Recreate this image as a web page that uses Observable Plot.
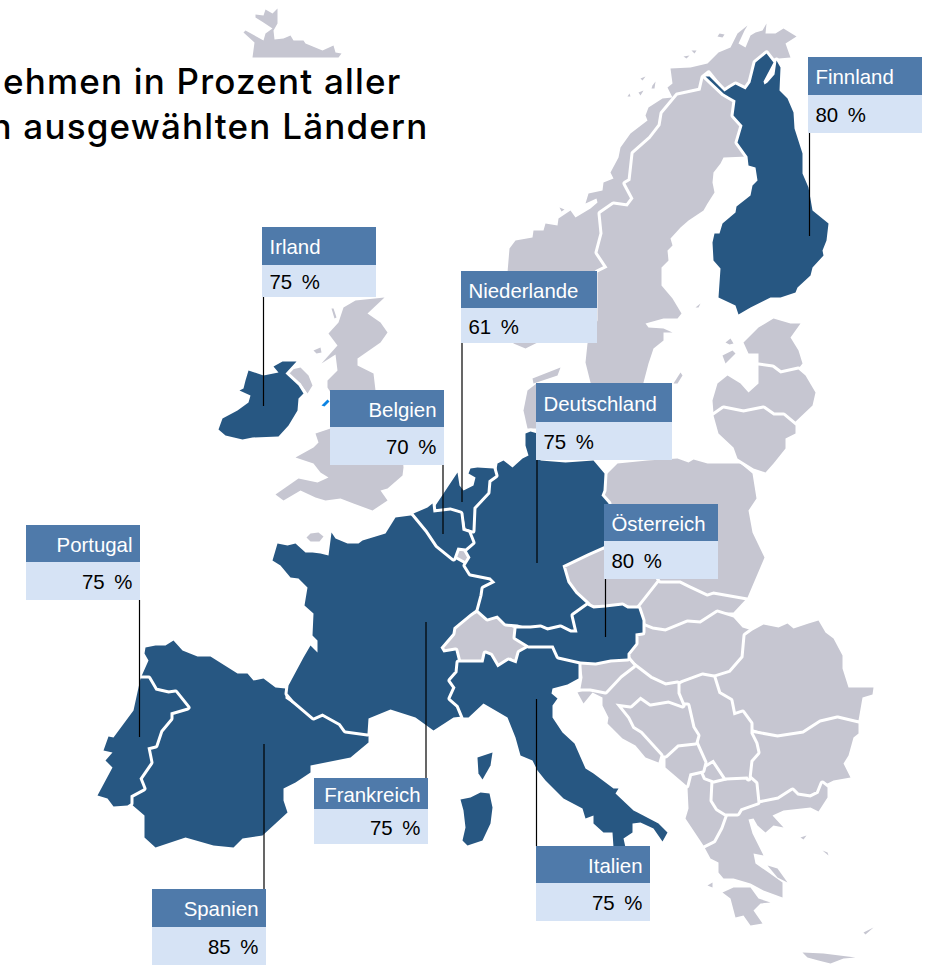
<!DOCTYPE html>
<html lang="de"><head><meta charset="utf-8">
<script src="https://cdn.jsdelivr.net/npm/d3@7"></script>
<script src="https://cdn.jsdelivr.net/npm/@observablehq/plot@0.6"></script>
<style>html,body{margin:0;background:#fff}svg{display:block}</style></head><body><div id="chart"></div>
<script>
// Callout values
const countries=["Finnland","Irland","Niederlande","Belgien","Deutschland","Österreich","Portugal","Frankreich","Italien","Spanien"];
const shares=[80,75,61,70,75,80,75,75,75,85];
const titleLines=["ehmen in Prozent aller","n ausgewählten Ländern"];

// Outlines, as x,y pairs in map units
const finland=[705,76,709,76,724,91,730,87,735,84,745,89,750,82,755,62,766,53,773,62,763,81,764,84,767,82,774,74,776,60,780,67,779,90,787,98,793,112,794,128,802,153,802,173,808,187,812,210,828,223,826,240,822,250,823,255,812,267,810,275,797,287,795,292,780,297,770,297,750,307,738,314,735,305,718,297,720,268,713,260,712,242,714,233,719,233,722,223,735,212,736,206,750,195,752,185,757,180,755,167,748,165,747,156,737,142,742,125,733,115,735,100,728,96,723,93];
const norway=[796,36,783,28,775,33,765,33,766,23,762,30,755,32,750,35,745,47,738,43,744,30,747,25,737,33,730,47,718,52,707,63,690,67,670,68,672,83,667,87,672,97,662,98,648,107,645,115,647,120,630,133,620,147,618,157,610,172,613,178,603,182,602,190,588,193,585,203,596,198,597,202,590,208,575,217,570,210,558,218,557,225,545,223,543,230,533,230,532,237,515,240,509,248,507,272,505,300,513,343,525,348,535,343,587,320,597,272,607,267,597,252,602,233,600,213,613,204,627,206,633,198,625,183,630,180,633,153,650,138,660,125,662,113,677,95,700,90,703,77,708,73,724,91,735,84,745,89,750,82,755,62,766,53,773,62,776,60,778,58,790,57,785,43];
const sweden=[708,73,724,93,730,95,735,100,733,115,742,125,737,142,747,156,723,157,720,163,713,172,712,182,714,192,707,203,703,210,688,220,680,227,670,238,672,245,667,250,668,260,661,267,661,285,672,298,681,313,677,318,663,318,645,323,648,327,663,328,672,332,663,332,663,340,653,348,648,363,643,382,640,395,620,405,600,400,590,382,585,362,587,343,597,320,597,272,607,267,597,252,602,233,600,213,613,204,627,206,633,198,625,183,630,180,633,153,650,138,660,125,662,113,677,95,700,90,703,77];
const denmark=[527,390,536,383,537,428,527,428,523,410];
const iceland=[252,57,254,42,243,32,245,30,263,40,265,33,272,28,263,22,255,17,255,14,263,15,265,9,272,13,277,8,277,23,273,30,274,39,283,38,290,35,293,40,303,40,305,43,322,50,333,45,335,52,341,53,338,57];
const britain=[384,297,367,313,380,322,387,332,380,342,357,358,357,365,373,373,375,390,400,430,403,467,402,475,387,488,380,490,387,500,372,510,353,503,340,498,325,500,315,497,300,490,283,500,275,494,298,478,317,482,328,477,320,472,313,463,295,457,313,447,318,442,315,433,330,428,335,400,327,387,327,380,337,370,335,354,321,363,337,345,328,333,338,322,343,307,355,300];
const northernIreland=[287,370,300,367,308,375,312,385,307,393,300,383,288,375];
const ireland=[296,361,282,361,273,366,278,372,263,375,248,370,245,380,243,388,239,390,250,395,248,402,237,410,222,418,218,429,225,435,242,439,252,437,278,436,288,425,297,410,298,398,303,393,298,385,285,373];
const spain=[145,647,155,645,165,645,173,640,182,650,197,656,210,656,237,673,247,673,253,680,263,678,275,687,285,688,285,698,313,717,322,714,340,723,345,730,368,735,368,742,350,757,310,765,310,772,295,782,283,788,283,800,287,812,262,835,242,838,233,847,213,845,185,837,155,847,144,837,144,815,130,803,130,795,143,788,139,778,150,762,147,747,155,745,160,730,170,718,170,712,187,707,175,692,168,693,155,690,148,678,140,678,148,660,144,653];
const portugal=[140,678,148,678,155,690,168,693,175,692,187,707,170,712,170,718,160,730,155,745,147,747,150,762,139,778,143,788,130,795,130,803,127,805,113,806,107,798,97,795,112,767,105,760,112,752,103,750,108,736,113,737,133,710];
const france=[410,515,395,517,385,533,362,540,358,543,347,543,335,538,331,532,328,555,320,553,312,552,305,552,295,543,287,545,277,543,272,560,280,565,290,577,298,578,307,587,304,605,313,613,312,635,317,640,317,652,310,645,303,657,288,685,287,693,293,700,313,717,322,713,340,723,345,730,367,733,368,718,390,709,415,717,433,730,453,717,462,716,460,707,450,698,453,690,450,682,457,672,458,662,455,650,443,652,440,647,452,633,453,627,470,613,477,608,482,595,483,588,495,582,490,577,470,573,465,565,463,563,454,558,437,545,427,530,413,515];
const germany=[497,463,503,460,512,467,522,458,528,455,525,445,525,433,530,431,537,433,540,460,565,462,593,460,604,473,603,490,601,495,608,503,605,545,587,553,562,565,567,582,575,593,587,604,573,615,577,632,570,632,560,627,547,630,540,627,530,628,517,624,505,623,497,615,487,618,478,610,482,595,483,588,495,582,490,577,470,573,465,565,470,557,465,548,472,542,468,532,472,530,473,507,487,492,488,480,495,475];
const netherlands=[470,468,477,467,493,468,495,475,488,480,487,492,473,507,472,530,465,528,463,517,453,510,443,510,433,508,443,493,457,472,459,485,463,490,473,485,475,477,468,473];
const belgium=[413,513,427,507,432,503,433,512,450,510,460,513,462,530,468,532,472,542,465,548,457,547,453,558,437,545,427,530];
const luxembourg=[457,547,465,548,470,557,463,563,454,558];
const switzerland=[440,647,452,633,453,627,470,615,478,612,487,620,497,615,507,625,515,628,515,637,527,645,518,653,517,663,510,657,497,667,492,663,488,655,482,660,458,660,455,650,443,652];
const italy=[458,662,483,662,485,653,490,655,497,667,508,660,516,663,519,652,528,647,553,645,558,657,578,662,578,678,567,684,552,688,551,693,557,698,552,705,552,717,562,732,574,743,585,768,593,773,613,788,618,788,615,793,633,810,637,812,658,823,667,832,662,841,653,828,640,822,632,823,632,832,623,838,625,847,613,847,612,832,603,832,593,823,593,815,585,818,582,808,563,798,545,780,537,770,532,760,520,755,515,737,507,717,483,703,468,717,463,717,458,705,450,698,455,687,450,680,457,672];
const sardinia=[460,799,470,797,480,792,489,793,492,807,490,823,482,840,467,845,462,840,465,827,463,810];
const corsica=[477,757,492,752,490,765,482,779,478,773];
const austria=[516,628,530,628,540,627,547,630,560,627,570,632,577,632,573,615,587,605,593,608,605,607,622,605,627,608,638,608,642,620,642,632,635,633,635,643,627,653,627,658,610,659,595,662,580,661,558,656,553,645,528,645,515,637];
const czechia=[562,565,587,553,604,546,630,535,660,560,660,580,638,608,633,607,622,603,605,605,590,605,587,603,575,593,567,582];
const slovakia=[660,580,680,580,690,585,707,593,713,591,747,597,733,612,717,612,700,623,687,622,665,630,647,628,640,613,638,608];
const poland=[605,475,617,463,647,460,677,458,688,462,693,459,707,463,740,463,752,473,756,498,748,510,752,532,764,557,747,597,713,591,707,593,690,585,680,580,660,580,630,535,604,546,608,503,601,495,603,490];
const hungary=[642,625,652,629,665,631,687,622,700,623,717,612,733,617,742,627,752,630,745,635,743,657,730,672,717,677,713,677,702,675,683,682,677,683,665,685,650,678,635,665,628,658,629,650,637,642,637,633];
const romania=[752,630,763,624,778,627,787,623,793,628,808,623,818,620,825,632,833,638,842,655,842,668,848,687,873,687,872,694,862,697,858,720,837,718,820,722,803,733,787,733,777,737,750,728,750,723,742,712,733,715,730,700,718,693,717,685,714,677,730,672,743,657,745,635];
const bulgaria=[750,732,777,737,803,733,820,722,837,718,858,723,858,733,853,737,848,755,843,763,850,777,833,780,827,783,820,783,818,793,810,797,797,795,792,790,778,798,760,802,757,800,755,783,748,778,750,760,757,752,755,743,748,733];
const greece=[725,813,740,813,742,808,758,803,778,799,792,790,797,795,810,797,818,793,822,783,827,787,827,797,818,811,810,807,783,810,772,815,783,827,773,825,765,832,757,825,753,818,748,819,752,833,763,855,753,853,755,863,768,872,782,882,782,897,763,890,750,883,733,878,723,878,718,872,718,862,710,858,703,845,713,840,720,827];
const peloponnese=[722,892,733,887,750,887,758,898,770,902,760,903,753,910,762,923,750,925,743,915,735,917,730,898];
const albania=[689,773,700,772,705,777,713,780,712,800,717,808,725,813,720,827,713,840,703,845,685,818,688,808,687,787];
const macedonia=[713,780,747,776,755,783,757,802,740,808,737,813,725,813,717,808,712,800];
const kosovo=[702,770,713,759,725,777,713,780,705,777];
const serbia=[677,685,683,682,702,675,713,677,718,693,730,700,733,715,742,712,750,723,750,733,755,743,757,752,750,760,748,778,747,776,725,777,713,759,703,765,695,743,697,735,692,727,687,705,682,705,677,693];
const montenegro=[665,767,665,755,677,744,695,742,704,762,702,770,689,773,686,785];
const bosnia=[615,703,630,705,640,696,650,703,668,700,682,705,687,705,692,727,697,735,695,742,677,744,665,755,660,755,640,733,632,728,627,718];
const croatia=[633,665,650,678,665,685,677,683,677,693,682,705,668,700,650,703,640,696,630,705,615,703,627,718,632,728,640,733,660,755,658,762,645,757,635,745,622,738,607,723,608,717,602,705,602,697,592,692,583,703,577,692,590,688,605,691,620,675];
const slovenia=[580,662,597,660,627,658,633,665,620,675,605,691,590,688,580,688,582,677];
const estonia=[743,342,758,327,773,318,790,323,800,323,790,337,798,350,802,363,798,368,780,372,772,367,758,363,758,353,748,353];
const latvia=[758,365,772,367,780,373,798,369,805,375,815,392,812,405,793,423,783,415,773,415,763,408,743,412,723,408,713,413,712,400,717,383,727,375,740,383,748,392,758,383];
const lithuania=[713,415,723,408,743,412,763,408,773,415,783,415,795,425,795,433,785,438,785,448,773,463,765,472,753,468,737,458,733,447,718,433];
// Small islands, drawn without a border
const islandsGrey=[
 [306,537,310,533,318,532,323,536,319,541,310,541],[313,350,320,347,321,352,316,353],[331,308,333,308,336,317,334,318],
 [767,865,777,868,787,882,777,877],[802,952,823,953,855,957,843,958,830,963,818,960,807,957],[800,837,806,835,803,839],[822,850,827,852,828,855],[863,932,873,927,865,934],[707,885,712,882,712,887],
 [722,355,732,350,735,353,725,363],[725,342,730,338,733,343,729,344],[673,383,680,372,682,375,677,383],[695,307,700,303,698,307],
 [532,378,560,367,557,375,533,383],
 [717,36,722,37,724,34,719,33],[683,56,686,58,689,55],[691,50,694,53,696,50],[652,85,655,81,654,88,651,88],[640,78,645,76,642,80],[638,92,643,90,640,95],[627,96,629,93,630,96],[559,207,564,209,561,211]];
const isleOfMan=[321,405,327,399,329,401,324,406];

const greyLands=[norway,sweden,denmark,iceland,britain,northernIreland,luxembourg,switzerland,czechia,slovakia,poland,hungary,romania,bulgaria,greece,peloponnese,albania,macedonia,kosovo,serbia,montenegro,bosnia,croatia,slovenia,estonia,latvia,lithuania];
const blueLands=[finland,ireland,spain,portugal,france,germany,netherlands,belgium,italy,sardinia,corsica,austria];

// Callout layout, same order as countries: box left, right, top, split, bottom; leader x, y1, y2; text side
const boxLeft =[808,262,461,330,536,604,26,314,536,152];
const boxRight=[922,376,597,444,672,718,140,428,650,266];
const boxTop  =[57,227,271,390,383,504,525,778,846,889];
const boxSplit=[95,265,308,427,422,541,562,809,883,927];
const boxBottom=[133,297,343,465,460,579,600,844,921,965];
const leaderX =[809,263,461.5,442.5,536.5,605,139,425.5,536,263.5];
const leaderA =[133,297,343,465,440,579,600,622,699,744];
const leaderB =[236,406,502,534,563,637,737,778,846,889];
const sideEnd =[false,false,false,true,false,false,true,true,true,true];

const rows=(list)=>list.flatMap((flat,id)=>d3.range(0,flat.length,2).map(i=>({id,x:flat[i],y:flat[i+1]})));
const table=countries.map((name,i)=>({name,share:`${shares[i]} %`,l:boxLeft[i],r:boxRight[i],t:boxTop[i],s:boxSplit[i],b:boxBottom[i],lx:leaderX[i],la:leaderA[i],lb:leaderB[i],tx:sideEnd[i]?boxRight[i]-8:boxLeft[i]+7,anchor:sideEnd[i]?"end":"start",hy:(boxTop[i]+boxSplit[i])/2+1,vy:(boxSplit[i]+boxBottom[i])/2+1}));
const startRows=table.filter(d=>d.anchor==="start"), endRows=table.filter(d=>d.anchor==="end");
const grey="#c6c6d1", blue="#275782", head="#4f7aaa", pale="#d6e3f5";
const land=(list,fill)=>Plot.line(rows(list),{x:"x",y:"y",z:"id",fill,stroke:"#fff",strokeWidth:6,paintOrder:"stroke",curve:"linear-closed"});
const labels=(data,anchor)=>[
 Plot.text(data,{x:"tx",y:"hy",text:"name",textAnchor:anchor,fill:"#fff",fontSize:20.4,fontFamily:"Liberation Sans"}),
 Plot.text(data,{x:"tx",y:"vy",text:"share",textAnchor:anchor,fill:"#000",fontSize:20.4,fontFamily:"Liberation Sans",className:"share"})];
const chart=Plot.plot({width:935,height:966,margin:0,
 x:{domain:[0,935],range:[0,935],axis:null},y:{domain:[0,966],range:[0,966],axis:null},
 marks:[
  land(greyLands,grey),
  Plot.line(rows(islandsGrey),{x:"x",y:"y",z:"id",fill:grey,stroke:"none",curve:"linear-closed"}),
  land(blueLands,blue),
  Plot.line(rows([isleOfMan]),{x:"x",y:"y",z:"id",fill:"#0b84e3",stroke:"none",curve:"linear-closed"}),
  Plot.ruleX(table,{x:"lx",y1:"la",y2:"lb",stroke:"#000",strokeWidth:1.2}),
  Plot.rect(table,{x1:"l",x2:"r",y1:"t",y2:"s",fill:head}),
  Plot.rect(table,{x1:"l",x2:"r",y1:"s",y2:"b",fill:pale}),
  ...labels(startRows,"start"),...labels(endRows,"end"),
  Plot.text([titleLines[0]],{x:[401],y:[82],text:d=>d,textAnchor:"end",fontSize:35,fontWeight:500,fontFamily:"Inter",fill:"#000",className:"title"}),
  Plot.text([titleLines[1]],{x:[428],y:[127],text:d=>d,textAnchor:"end",fontSize:35,fontWeight:500,fontFamily:"Inter",fill:"#000",className:"title"})
 ]});
document.getElementById("chart").append(chart);
const css=document.createElement("style");css.textContent=".share text{word-spacing:4px}.title text{letter-spacing:1.2px}";document.head.append(css);
</script></body></html>
